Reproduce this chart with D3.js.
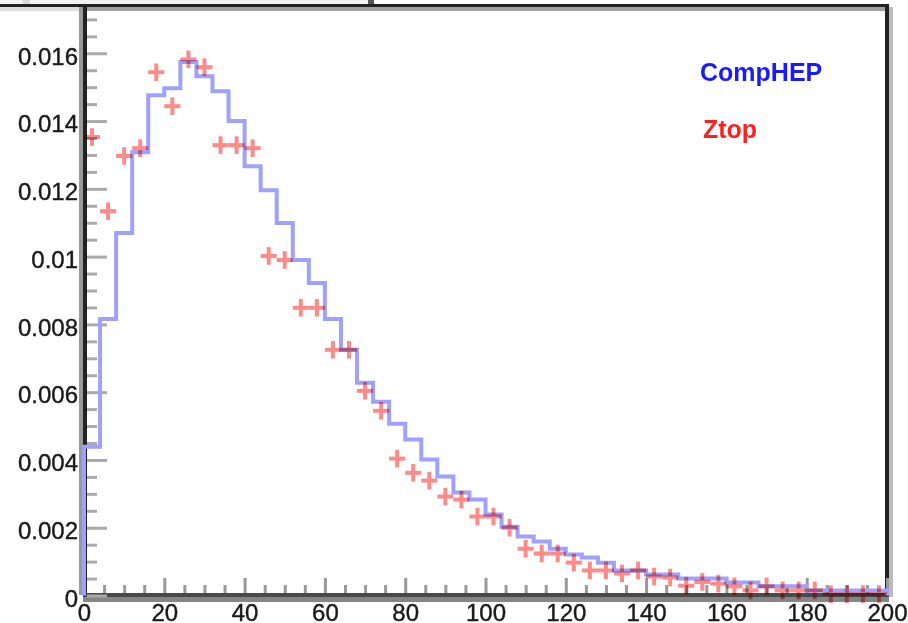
<!DOCTYPE html>
<html><head><meta charset="utf-8">
<script src="https://cdn.jsdelivr.net/npm/d3@7"></script>
<style>html,body{margin:0;padding:0;background:#fff;} svg{display:block;}</style>
</head><body><svg id="chart" width="908" height="623"></svg>
<script>
// ---- data ----
const binLowEdges = [0,4,8,12,16,20,24,28,32,36,40,44,48,52,56,60,64,68,72,76,80,84,88,92,96,
  100,104,108,112,116,120,124,128,132,136,140,144,148,152,156,160,164,168,172,176,180,184,188,192,196];
const binWidth = 4;
const compHEP = [0.00439,0.00816,0.0107,0.01308,0.01476,0.01497,0.01574,0.01532,0.01488,0.0140,
  0.01267,0.01196,0.01099,0.0099,0.00922,0.00816,0.00725,0.00628,0.00572,0.00507,
  0.0046,0.00401,0.00351,0.00304,0.00283,0.00239,0.00203,0.00174,0.00159,0.00138,
  0.00121,0.00112,0.00097,0.00074,0.00074,0.00062,0.00062,0.0005,0.0005,0.0005,
  0.00038,0.00038,0.00027,0.00027,0.00027,0.00015,0.00015,0.00015,0.00015,0.00015];
const ztop = [0.01353,0.01134,0.01297,0.0132,0.01544,0.01444,0.01582,0.01559,0.01329,0.01329,
  0.0132,0.01002,0.0099,0.00849,0.00849,0.00725,0.00725,0.00604,0.00545,0.00404,
  0.00362,0.00339,0.00292,0.00283,0.00233,0.00233,0.002,0.00138,0.00124,0.00124,
  0.00097,0.00074,0.00074,0.00065,0.00074,0.00056,0.00053,0.00029,0.0004,0.00035,
  0.00027,0.00015,0.00027,0.00015,0.00015,0.00015,0.00004,0.00004,0.00004,0.00004];
const ztopErr = 0.00026;
const xTicks = [0,20,40,60,80,100,120,140,160,180,200];
const xTickLabels = ["0","20","40","60","80","100","120","140","160","180","200"];
const yTicks = [0,0.002,0.004,0.006,0.008,0.01,0.012,0.014,0.016];
const yTickLabels = ["0","0.002","0.004","0.006","0.008","0.01","0.012","0.014","0.016"];
const legendLabels = ["CompHEP","Ztop"];

// ---- layout ----
const svg = d3.select("#chart");
const x = d3.scaleLinear().domain([0,200]).range([84,887]);
const y = d3.scaleLinear().domain([0,0.01741]).range([595.5,5.5]);
const font = "'Liberation Sans', Arial, Helvetica, sans-serif";

// top strip remnants
svg.append("rect").attr("x",0).attr("y",0).attr("width",369).attr("height",4).attr("fill","#f2f2f2");
svg.append("rect").attr("x",23).attr("y",0).attr("width",7).attr("height",4).attr("fill","#d8d8d8");
svg.append("rect").attr("x",368).attr("y",0).attr("width",6).attr("height",6).attr("fill","#555");
svg.append("rect").attr("x",0).attr("y",7).attr("width",79).attr("height",4).attr("fill","#dedede");

// frame (shadows)
svg.append("rect").attr("x",87).attr("y",7).attr("width",798).attr("height",4).attr("fill","#a0a0a0");
svg.append("rect").attr("x",79).attr("y",7).attr("width",4).attr("height",588).attr("fill","#999");
svg.append("rect").attr("x",889).attr("y",7).attr("width",4).attr("height",590).attr("fill","#bbb");
svg.append("rect").attr("x",83).attr("y",597).attr("width",806).attr("height",5).attr("fill","#858585");
// frame (dark)
svg.append("rect").attr("x",0).attr("y",4).attr("width",889).attr("height",3).attr("fill","#222");
svg.append("rect").attr("x",83).attr("y",4).attr("width",4).attr("height",593).attr("fill","#222");
svg.append("rect").attr("x",885).attr("y",4).attr("width",4).attr("height",593).attr("fill","#222");
svg.append("rect").attr("x",83).attr("y",593).attr("width",806).attr("height",4).attr("fill","#4a4a4a");

// y axis
const yMinor = d3.range(0, 0.01725, 0.0005).filter(v => !yTicks.some(t => Math.abs(t - v) < 1e-9));
const gyMinor = svg.append("g").attr("transform","translate(87,0)")
  .call(d3.axisLeft(y).tickValues(yMinor).tickSize(-10).tickFormat(""));
const gy = svg.append("g").attr("transform","translate(87,0)")
  .call(d3.axisLeft(y).tickValues(yTicks).tickSize(-20).tickPadding(9)
    .tickFormat((d,i) => yTickLabels[i]));
[gy, gyMinor].forEach(g => {
  g.select(".domain").remove();
  g.selectAll(".tick line").attr("stroke","#aaa").attr("stroke-width",3);
});
gy.selectAll("text").attr("font-family",font).attr("font-size",24).attr("fill","#1a1a1a")
  .attr("stroke","#1a1a1a").attr("stroke-width",0.4).attr("dy","0.45em");

// x axis
const xMinor = d3.range(0, 201, 5).filter(v => v % 20 !== 0);
const gxMinor = svg.append("g").attr("transform","translate(0,593)")
  .call(d3.axisBottom(x).tickValues(xMinor).tickSize(-8).tickFormat(""));
const gx = svg.append("g").attr("transform","translate(0,593)")
  .call(d3.axisBottom(x).tickValues(xTicks).tickSize(-15).tickPadding(11)
    .tickFormat((d,i) => xTickLabels[i]));
[gx, gxMinor].forEach(g => {
  g.select(".domain").remove();
  g.selectAll(".tick line").attr("stroke","#999").attr("stroke-width",3);
});
gx.selectAll("text").attr("font-family",font).attr("font-size",24).attr("fill","#1a1a1a")
  .attr("stroke","#1a1a1a").attr("stroke-width",0.4);

// CompHEP histogram (step outline)
const pts = [[x(binLowEdges[0]), y(0)]];
binLowEdges.forEach((e,i) => {
  pts.push([x(e), y(compHEP[i])]);
  pts.push([x(e + binWidth), y(compHEP[i])]);
});
pts.push([x(binLowEdges[binLowEdges.length-1] + binWidth), y(0)]);
svg.append("path").attr("d", d3.line()(pts))
  .attr("fill","none").attr("stroke","#a0a0ff").attr("stroke-width",4)
  .attr("stroke-linejoin","miter");

// Ztop points with error crosses
const gz = svg.append("g").style("mix-blend-mode","multiply");
binLowEdges.forEach((e,i) => {
  const cx = x(e + binWidth/2);
  gz.append("line").attr("x1", x(e)).attr("x2", x(e + binWidth))
    .attr("y1", y(ztop[i])).attr("y2", y(ztop[i]));
  gz.append("line").attr("x1", cx).attr("x2", cx)
    .attr("y1", y(ztop[i] - ztopErr)).attr("y2", y(ztop[i] + ztopErr));
});
gz.selectAll("line").attr("stroke","#ff8a8a").attr("stroke-width",4);

// legend texts
const legendColors = ["#1a1aff","#ff1f1f"];
const legendPos = [[700,81],[703,138]];
legendLabels.forEach((t,i) => {
  svg.append("text").attr("x",legendPos[i][0]).attr("y",legendPos[i][1])
    .attr("font-family",font).attr("font-size",25).attr("font-weight","bold")
    .attr("fill",legendColors[i]).text(t);
});
</script>
</body></html>
